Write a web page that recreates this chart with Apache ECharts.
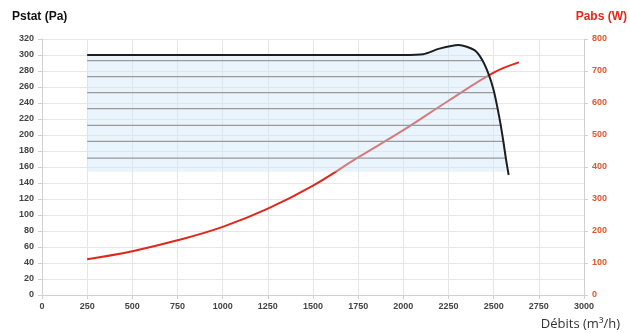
<!DOCTYPE html>
<html><head><meta charset="utf-8">
<script src="https://cdn.jsdelivr.net/npm/echarts@6/dist/echarts.min.js"></script>
<style>html,body{margin:0;padding:0;background:#fff}#c{width:630px;height:333px}</style>
</head><body><div id="c"></div>
<script>
// Pression statique (Pa) vs débit (m3/h)
const pstatCurve = [[250,300],[2000,300],[2110,301],[2200,308],[2306,312.5],[2394,306],[2436,294],[2472,276],[2500,256],[2522,233],[2540,211],[2555,190],[2568,170],[2583,150]];
// Puissance absorbée (W) vs débit
const pabsCurve = [[250,112],[500,137],[750,171],[1000,213],[1250,270],[1500,342],[1750,430],[2000,515],[2250,607],[2500,695],[2640,727]];
// Lignes de vitesses intermédiaires (Pa) et leur débit de fin
const speedLevels = [293,273,253,233,212,192,171];
const speedStart = 250;
const speedEnds = [2438,2475,2503,2524,2542,2556,2568];
const areaBase = 154;

const chart = echarts.init(document.getElementById('c'), null, {renderer:'canvas'});
const font = 'Liberation Sans';
const series = [];
series.push({
  name:'Pabs', type:'line', yAxisIndex:1, data:pabsCurve, smooth:0.4, symbol:'none',
  lineStyle:{color:'#e1261c', width:2}, z:2
});
series.push({
  name:'zone', type:'line', data:pstatCurve, smooth:0.25, symbol:'none',
  lineStyle:{width:0}, areaStyle:{origin:areaBase, color:'rgba(205,230,249,0.62)'}, z:3
});
speedLevels.forEach((v,i)=>{
  series.push({type:'line', data:[[speedStart,v],[speedEnds[i],v]], symbol:'none',
    lineStyle:{color:'#9a9a9a', width:1.3}, z:4, silent:true});
});
series.push({
  name:'Pstat', type:'line', data:pstatCurve, smooth:0.25, symbol:'none',
  lineStyle:{color:'#1e1e1e', width:2}, z:5
});

chart.setOption({
  animation:false,
  grid:{left:42, right:46, top:39, bottom:38},
  xAxis:{type:'value', min:0, max:3000, interval:250,
    axisLine:{lineStyle:{color:'#d0d0d0'}},
    axisTick:{show:true, length:4, lineStyle:{color:'#d0d0d0'}},
    axisLabel:{fontFamily:font, fontSize:9, color:'#444', margin:7, fontWeight:'bold', formatter:v=>String(v)},
    splitLine:{show:true, lineStyle:{color:'#e6e6e6'}}},
  yAxis:[
    {type:'value', min:0, max:320, interval:20,
      axisLine:{show:true, lineStyle:{color:'#d0d0d0'}},
      axisTick:{show:true, length:4, lineStyle:{color:'#d0d0d0'}},
      axisLabel:{fontFamily:font, fontSize:9, color:'#444', margin:8, fontWeight:'bold'},
      splitLine:{show:true, lineStyle:{color:'#e6e6e6'}}},
    {type:'value', min:0, max:800, interval:100, position:'right',
      axisLine:{show:true, lineStyle:{color:'#d0d0d0'}},
      axisTick:{show:true, length:4, lineStyle:{color:'#d0d0d0'}},
      axisLabel:{fontFamily:font, fontSize:9, color:'#e0552b', margin:8, fontWeight:'bold'},
      splitLine:{show:false}}
  ],
  graphic:[
    {type:'text', left:12, top:11, style:{text:'Pstat (Pa)', font:'bold 12px "Liberation Sans"', fill:'#111'}},
    {type:'text', right:3, top:11, style:{text:'Pabs (W)', font:'bold 12px "Liberation Sans"', fill:'#e8261a'}},
    {type:'text', right:10, top:318, style:{text:'Débits (m³/h)', font:'13px "Open Sans"', fill:'#333'}}
  ],
  series:series
});
</script></body></html>
